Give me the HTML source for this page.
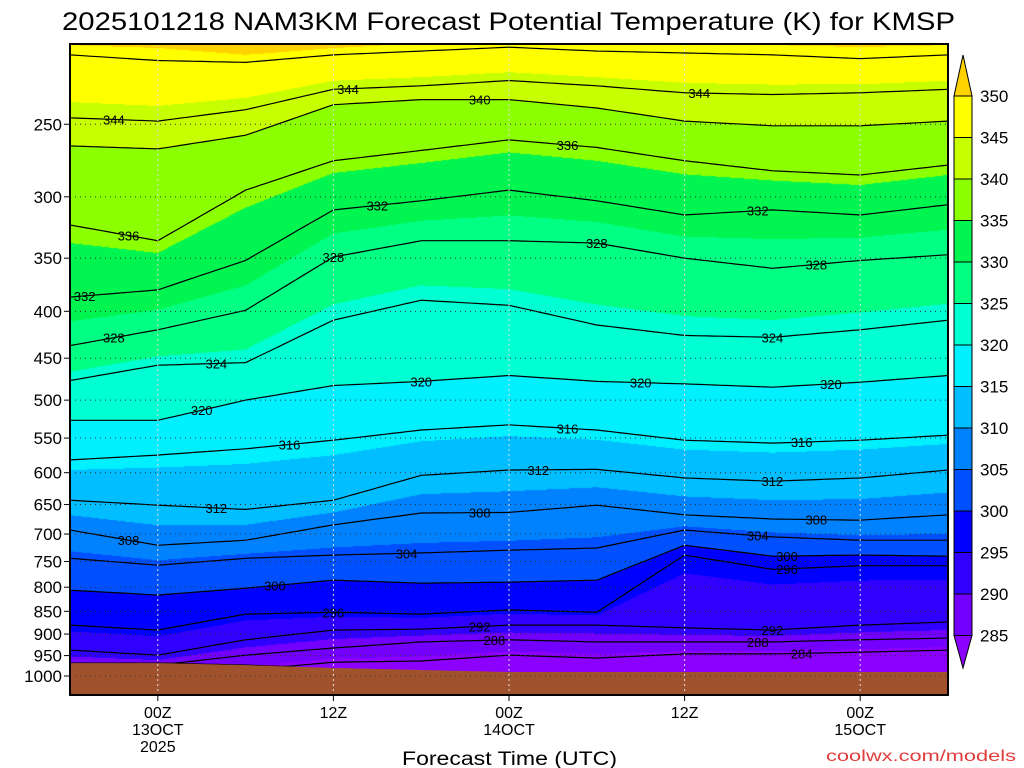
<!DOCTYPE html>
<html><head><meta charset="utf-8"><style>
html,body{margin:0;padding:0;background:#fff;width:1024px;height:768px;overflow:hidden}
#wrap{position:relative;width:1024px;height:768px}
canvas{position:absolute;left:70px;top:44px}
svg{position:absolute;left:0;top:0}
text{font-family:"Liberation Sans",sans-serif}
</style></head><body>
<div id="wrap">
<canvas id="field" width="878" height="651"></canvas>
<svg id="svg" width="1024" height="768"></svg>
</div>
<script>
// ---- data ----
const hours = [0,6,12,18,24,30,36,42,48,54,60]; // hours since 2025-10-12 18Z
const thetaLevels = [284,288,292,296,300,304,308,312,316,320,324,328,332,336,340,344,348,352];
const p284 = [1035,1035,985,966,963,949,956,946,946,942,937];
const p288 = [968,973,949,932,918,913,918,918,918,913,909];
const p292 = [937,949,913,891,889,880,880,886,891,880,873];
const p296 = [880,891,856,852,856,847,852,738,765,758,758];
const p300 = [806,816,802,786,792,790,786,720,740,738,740];
const p304 = [744,757,744,738,734,729,725,693,705,711,711];
const p308 = [693,720,711,684,664,663,651,667,674,676,667];
const p312 = [643,651,658,643,604,596,595,608,613,608,596];
const p316 = [581,574,565,553,539,532,539,553,557,553,546];
const p320 = [526,526,500,482,477,470,477,480,484,478,470];
const p324 = [476,458,455,409,389,394,414,425,427,419,409];
const p328 = [436,419,399,349,335,335,337,350,359,352,347];
const p332 = [386,379,352,310,303,295,303,314,310,314,306];
const p336 = [322,335,295,274,267,260,265,274,281,284,277];
const p340 = [264,266,257,238,235,235,240,248,251,251,248];
const p344 = [246,248,241,229,227,224,227,231,232,231,229];
const p348 = [210,213,214,210,208,206,208,209,210,212,210];
const p352 = [200,200,206,203,200,201,200,200,200,200,200];
const surfaceP = [968,968,973,980,985,990,990,990,990,990,990];
const pressureTicks = [250,300,350,400,450,500,550,600,650,700,750,800,850,900,950,1000];
const timeTickHours = [6,18,30,42,54];
const timeTickLabels = [["00Z","13OCT","2025"],["12Z"],["00Z","14OCT"],["12Z"],["00Z","15OCT"]];
const colorLevels = [285,290,295,300,305,310,315,320,325,330,335,340,345,350];
const bandColors = ["#8c00ff","#7300ff","#3000ff","#0000ff","#0050ff","#0082ff","#00beff","#00f0ff","#00ffd2","#00ff82","#00f550","#8cff00","#c8ff00","#ffff00","#ffd200"];
const labelTheta = [344,336,332,328,324,320,316,312,308,300,296,292,288,304,308,312,316,320,328,332,336,340,344,344,332,328,328,324,320,320,316,312,308,304,300,296,292,288,284];
const labelHour  = [3,4,1,3,10,9,15,10,4,14,18,28,29,23,28,32,34,24,18,21,34,28,19,43,47,36,51,48,39,52,50,48,51,47,49,49,48,47,50];

const isen = [p284,p288,p292,p296,p300,p304,p308,p312,p316,p320,p324,p328,p332,p336,p340,p344,p348,p352];

// ---- axes ----
const PL=70,PT=44,PR=948,PB=695;
function yOf(p){return 676-398*Math.log(1000/p);}
function xOf(h){return PL+h*(PR-PL)/60;}
function interpAt(arr,h){
  const i=Math.min(hours.length-2,Math.max(0,Math.floor(h/6)));
  const f=(h-hours[i])/(hours[i+1]-hours[i]);
  return Math.exp(Math.log(arr[i])*(1-f)+Math.log(arr[i+1])*f);
}
function bandIndex(th){
  let k=0; while(k<colorLevels.length && th>=colorLevels[k]) k++; return k;
}
function hex(c){return [parseInt(c.substr(1,2),16),parseInt(c.substr(3,2),16),parseInt(c.substr(5,2),16)];}
const rgb=bandColors.map(hex);

// ---- field ----
const cv=document.getElementById('field');
const ctx=cv.getContext('2d');
const W=cv.width,H=cv.height;
const img=ctx.createImageData(W,H);
for(let px=0;px<W;px++){
  const h=(px+0.5)*60/W;
  const ys=isen.map(a=>yOf(interpAt(a,h))-PT);
  for(let py=0;py<H;py++){
    const y=py+0.5;
    let th;
    if(y>=ys[0]){const d=ys[0]-ys[1]||1; th=thetaLevels[0]-(y-ys[0])/d*4;}
    else if(y<=ys[ys.length-1]){const n=ys.length-1;const d=ys[n-1]-ys[n]||1; th=thetaLevels[n]+(ys[n]-y)/d*4;}
    else{
      let k=0; while(k<ys.length-1 && !(y<=ys[k] && y>ys[k+1])) k++;
      const f=(ys[k]-y)/((ys[k]-ys[k+1])||1);
      th=thetaLevels[k]+f*4;
    }
    const c=rgb[bandIndex(th)];
    const o=(py*W+px)*4;
    img.data[o]=c[0];img.data[o+1]=c[1];img.data[o+2]=c[2];img.data[o+3]=255;
  }
}
ctx.putImageData(img,0,0);

// ---- svg overlay ----
const NS="http://www.w3.org/2000/svg";
const svg=document.getElementById('svg');
function mk(tag,attrs,parent){const e=document.createElementNS(NS,tag);for(const k in attrs)e.setAttribute(k,attrs[k]);(parent||svg).appendChild(e);return e;}

// contours
const gC=mk('g',{});


isen.forEach((arr,i)=>{
  if(thetaLevels[i]>350) return;
  let d='';
  for(let s=0;s<=120;s++){
    const h=s*0.5;
    const y=Math.min(yOf(interpAt(arr,h)),yOf(interpAt(surfaceP,h)));
    d+=(s?'L':'M')+xOf(h).toFixed(1)+','+Math.max(PT,y).toFixed(1);
  }
  const p=mk('path',{d:d,fill:'none',stroke:'#000','stroke-width':1.2},gC);
  
  
});

// ground
let gd='M'+PL+','+PB;
for(let s=0;s<=120;s++){const h=s*0.5;gd+='L'+xOf(h).toFixed(1)+','+yOf(interpAt(surfaceP,h)).toFixed(1);}
gd+='L'+PR+','+PB+'Z';
const ground=mk('path',{d:gd,fill:'#a0522d'});



// contour labels
labelTheta.forEach((th,i)=>{
  const idx=thetaLevels.indexOf(th);
  const h=labelHour[i];
  const x=xOf(h), y=yOf(interpAt(isen[idx],h));
  const t=mk('text',{x:x,y:y+5,'text-anchor':'middle','font-size':13,fill:'#000'});
  t.textContent=th;
  
  
});

// grid lines
pressureTicks.forEach(p=>{
  const y=yOf(p);
  const l=mk('line',{x1:PL,x2:PR,y1:y,y2:y,stroke:'#333','stroke-width':1,'stroke-dasharray':'1 4'});
  
  
  const tk=mk('line',{x1:PL-6,x2:PL,y1:y,y2:y,stroke:'#000','stroke-width':1});
  
  
  const t=mk('text',{x:PL-8,y:y+6,'text-anchor':'end','font-size':17,fill:'#000'});
  t.textContent=p;
  
  
});
timeTickHours.forEach((h,i)=>{
  const x=xOf(h);
  const l=mk('line',{x1:x,x2:x,y1:PT,y2:PB,stroke:'#ddd','stroke-width':1,'stroke-dasharray':'2 3'});
  
  
  const tk=mk('line',{x1:x,x2:x,y1:PB,y2:PB+6,stroke:'#000','stroke-width':1});
  
  
  timeTickLabels[i].forEach((s,j)=>{
    const t=mk('text',{x:x,y:PB+23+j*17,'text-anchor':'middle','font-size':16,fill:'#000'});
    t.textContent=s;
    
    
  });
});

// frame
const fr=mk('rect',{x:PL,y:PT,width:PR-PL,height:PB-PT,fill:'none',stroke:'#000','stroke-width':2});



// colorbar
const cbX=954,cbW=18,cbTop=96,cbStep=41.5;
const gB=mk('g',{});


for(let k=0;k<13;k++){
  const lvHigh=colorLevels[colorLevels.length-1-k];
  const r=mk('rect',{x:cbX,y:cbTop+k*cbStep,width:cbW,height:cbStep,fill:bandColors[bandColors.length-2-k],stroke:'#000','stroke-width':1},gB);
  
  
}
const triT=mk('polygon',{points:`${cbX},${cbTop} ${cbX+cbW},${cbTop} ${cbX+cbW/2},55`,fill:bandColors[bandColors.length-1],stroke:'#000','stroke-width':1},gB);


const cbBot=cbTop+13*cbStep;
const triB=mk('polygon',{points:`${cbX},${cbBot} ${cbX+cbW},${cbBot} ${cbX+cbW/2},668`,fill:bandColors[0],stroke:'#000','stroke-width':1},gB);


colorLevels.slice().reverse().forEach((lv,k)=>{
  const t=mk('text',{x:980,y:cbTop+k*cbStep+6,'font-size':17,fill:'#000'},gB);
  t.textContent=lv;
  
  
});

// titles
const title=mk('text',{x:62,y:30,'font-size':25,fill:'#000',textLength:893,lengthAdjust:'spacingAndGlyphs'});
title.textContent='2025101218 NAM3KM Forecast Potential Temperature (K) for KMSP';


const xt=mk('text',{x:402,y:765,'font-size':19,fill:'#000',textLength:215,lengthAdjust:'spacingAndGlyphs'});
xt.textContent='Forecast Time (UTC)';


const cr=mk('text',{x:826,y:761,'font-size':16,fill:'#e03c3c',textLength:190,lengthAdjust:'spacingAndGlyphs'});
cr.textContent='coolwx.com/models';


</script>
</body></html>
